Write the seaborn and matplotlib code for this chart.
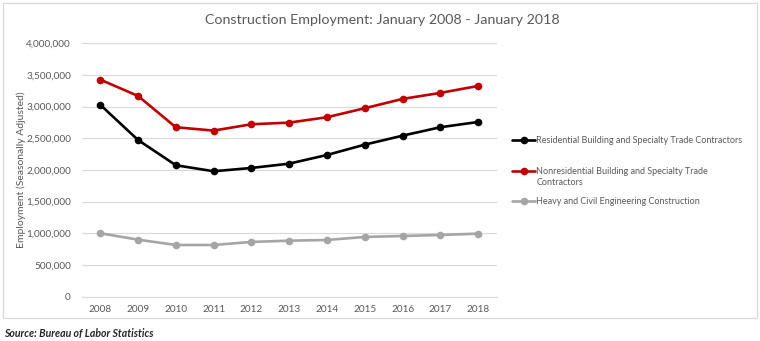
import matplotlib
matplotlib.use("Agg")
import matplotlib.pyplot as plt
from matplotlib.patches import Rectangle
from matplotlib.ticker import FuncFormatter
import pandas as pd
import seaborn as sns

years = ["2008", "2009", "2010", "2011", "2012", "2013",
         "2014", "2015", "2016", "2017", "2018"]
residential = [3030000, 2474000, 2075000, 1980000, 2032000, 2100000,
               2237000, 2400000, 2542000, 2675000, 2758000]
nonresidential = [3427000, 3169000, 2675000, 2622000, 2722000, 2748000,
                  2833000, 2975000, 3122000, 3217000, 3327000]
heavy_civil = [1001000, 900000, 816000, 816000, 864000, 884000,
               895000, 943000, 958000, 974000, 995000]

series_names = [
    "Residential Building and Specialty Trade Contractors",
    "Nonresidential Building and Specialty Trade Contractors",
    "Heavy and Civil Engineering Construction",
]
series_colors = ["#000000", "#C00000", "#A5A5A5"]
y_ticks = [0, 500000, 1000000, 1500000, 2000000, 2500000, 3000000, 3500000, 4000000]

frames = []
for name, vals in zip(series_names, [residential, nonresidential, heavy_civil]):
    frames.append(pd.DataFrame({"Year": years, "Employment": vals, "Series": name}))
df = pd.concat(frames, ignore_index=True)

sns.set_style("white")
plt.rcParams["font.family"] = ["Lato", "DejaVu Sans"]
text_color = "#595959"

fig = plt.figure(figsize=(7.6, 3.41), dpi=100)
ax = fig.add_axes([0.108, 0.130, 0.546, 0.743])

sns.lineplot(data=df, x="Year", y="Employment", hue="Series",
             hue_order=series_names, palette=series_colors,
             marker="o", markersize=5.5, markeredgewidth=0, linewidth=1.9,
             sort=False, legend=False, ax=ax)

ax.set_xlim(-0.48, len(years) - 0.5)
ax.set_ylim(0, 4000000)
ax.set_yticks(y_ticks)
ax.yaxis.set_major_formatter(FuncFormatter(lambda v, p: f"{int(v):,}"))
ax.grid(axis="y", color="#D9D9D9", linewidth=0.8)
ax.set_axisbelow(True)
for s in ["top", "right", "left"]:
    ax.spines[s].set_visible(False)
ax.spines["bottom"].set_color("#D9D9D9")
ax.spines["bottom"].set_linewidth(0.8)
ax.tick_params(axis="both", length=0, labelsize=7.2, labelcolor=text_color)
ax.tick_params(axis="y", pad=8)
ax.tick_params(axis="x", pad=6)
ax.set_xlabel("")
ax.set_ylabel("Employment (Seasonally Adjusted)", fontsize=7.5,
              color=text_color, labelpad=0)

fig.text(0.503, 0.942, "Construction Employment: January 2008 - January 2018",
         ha="center", va="center", fontsize=10.3, color=text_color)

# Legend entries, one block per series, handles taken from the drawn lines
lines = ax.get_lines()[:3]
handle_kw = dict(frameon=False, fontsize=6.5, labelcolor=text_color,
                 handlelength=2.5, handletextpad=0.15, borderpad=0,
                 borderaxespad=0, loc="center left")
leg1 = ax.legend([lines[0]], [series_names[0]],
                 bbox_to_anchor=(0.674, 1 - 140.7 / 341),
                 bbox_transform=fig.transFigure, **handle_kw)
ax.add_artist(leg1)
blank = plt.Line2D([], [], color="none")
leg2 = ax.legend([lines[1], blank],
                 ["Nonresidential Building and Specialty Trade", "Contractors"],
                 bbox_to_anchor=(0.674, 1 - 176.8 / 341),
                 bbox_transform=fig.transFigure, labelspacing=0.25, **handle_kw)
ax.add_artist(leg2)
leg3 = ax.legend([lines[2]], [series_names[2]],
                 bbox_to_anchor=(0.674, 1 - 201.7 / 341),
                 bbox_transform=fig.transFigure, **handle_kw)

fig.patches.append(Rectangle((3 / 760, 1 - 318 / 341), 754 / 760, 315 / 341,
                             transform=fig.transFigure, fill=False,
                             edgecolor="#D9D9D9", linewidth=0.9))
fig.text(4 / 760, 1 - 333.5 / 341, "Source: Bureau of Labor Statistics",
         ha="left", va="center", fontsize=7.6, style="italic",
         fontweight="bold", color="#262626")

fig.savefig("out.png", dpi=100, facecolor="white")
